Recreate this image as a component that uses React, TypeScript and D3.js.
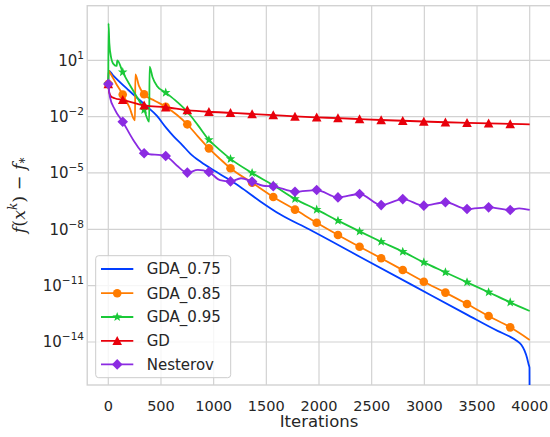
import React from "react";
import * as d3 from "d3";

// ---------- data (log10 of f(x^k) - f_*) ----------
const xTicks = [0, 500, 1000, 1500, 2000, 2500, 3000, 3500, 4000];
const yTickExps = [1, -2, -5, -8, -11, -14];
const markIters = [0, 137, 340, 545, 750, 955, 1160, 1365, 1566, 1772, 1978, 2180, 2385, 2590, 2795, 2995, 3200, 3405, 3610, 3815];

const gda075: [number, number][] = [
  [0, -0.26], [3, 0.45], [45, 0.2], [190, -0.58], [350, -1.38], [460, -1.95], [550, -2.6], [620, -3.05],
  [700, -3.5], [780, -3.98], [880, -4.42], [1000, -4.86], [1130, -5.3], [1250, -5.73], [1440, -6.5],
  [1630, -7.2], [1905, -8.0], [2400, -9.5], [2895, -11.0], [3400, -12.53], [3700, -13.42], [3800, -13.68],
  [3876, -13.93], [3920, -14.15], [3950, -14.45], [3975, -14.85], [3990, -15.2], [3998, -15.37], [4000, -Infinity],
];
const gda085: [number, number][] = [
  [0, -0.26], [3, 0.45], [20, 0.3], [80, -0.3], [137, -0.82], [200, -1.5], [253, -2.2], [257, 0.25],
  [290, -0.35], [340, -0.81], [440, -1.15], [545, -1.47], [650, -1.9], [750, -2.41], [850, -3.05],
  [955, -3.69], [1060, -4.25], [1160, -4.75], [1365, -5.52], [1566, -6.28], [1772, -6.95], [1978, -7.65],
  [2180, -8.3], [2385, -8.93], [2590, -9.54], [2795, -10.17], [2995, -10.79], [3200, -11.37], [3405, -11.98],
  [3610, -12.62], [3815, -13.22], [4000, -13.89],
];
const gda095: [number, number][] = [
  [0, -0.26], [2, 2.97], [10, 1.9], [25, 1.2], [50, 0.8], [80, 0.7], [85, 1.0], [137, 0.37], [250, -0.75],
  [340, -1.64], [388, -2.27], [392, 0.66], [420, 0.1], [460, -0.35], [545, -0.72], [650, -1.2], [750, -1.74],
  [850, -2.45], [955, -3.24], [1060, -3.78], [1160, -4.25], [1365, -5.0], [1566, -5.65], [1772, -6.38],
  [1978, -6.95], [2180, -7.54], [2385, -8.11], [2590, -8.66], [2795, -9.19], [2995, -9.76], [3200, -10.29],
  [3405, -10.82], [3610, -11.35], [3815, -11.89], [4000, -12.35],
];
const gd: [number, number][] = [
  [0, -0.26], [8, -0.7], [25, -0.92], [60, -1.02], [137, -1.11], [340, -1.4], [545, -1.5], [750, -1.65],
  [955, -1.74], [1160, -1.8], [1365, -1.86], [1566, -1.92], [1772, -1.99], [1978, -2.04], [2180, -2.08],
  [2385, -2.13], [2590, -2.18], [2795, -2.22], [2995, -2.26], [3200, -2.3], [3405, -2.33], [3610, -2.36],
  [3815, -2.39], [4000, -2.41],
];
const nesterov: [number, number][] = [
  [0, -0.26], [15, -0.94], [60, -1.6], [137, -2.27], [237, -3.24], [340, -3.95], [545, -4.1], [650, -4.6],
  [750, -4.98], [850, -4.84], [955, -4.95], [1060, -5.38], [1160, -5.45], [1260, -5.28], [1365, -5.46],
  [1470, -5.68], [1566, -5.71], [1772, -6.0], [1978, -5.91], [2180, -6.3], [2385, -6.12], [2590, -6.71],
  [2795, -6.39], [2995, -6.74], [3200, -6.56], [3405, -6.92], [3610, -6.83], [3815, -6.97], [3900, -6.88],
  [4000, -6.97],
];

type Marker = "none" | "circle" | "star" | "triangle" | "diamond";
const seriesNames = ["GDA_0.75", "GDA_0.85", "GDA_0.95", "GD", "Nesterov"];
const seriesData = [gda075, gda085, gda095, gd, nesterov];
const seriesColors = ["#023eff", "#ff7c00", "#1ac938", "#e8000b", "#8b2be2"];
const seriesMarkers: Marker[] = ["none", "circle", "star", "triangle", "diamond"];

// ---------- layout ----------
const W = 550, H = 437;
const L = 87.23, R = 550.77, T = 5.7, B = 385;
const FONT = "DejaVu Sans, sans-serif";
const TXT = "#262626";
const GRID = "#d2d2d2";

const x = d3.scaleLinear().domain([-200, 4200]).range([L, R]);
const y = d3.scaleLog().domain([Math.pow(10, -16.29), Math.pow(10, 3.907)]).range([B, T]);

const py = (e: number) => (e === -Infinity ? B + 60 : y(Math.pow(10, e)));

function markerPath(m: Marker): string {
  if (m === "circle") return d3.arc()({ innerRadius: 0, outerRadius: 4.3, startAngle: 0, endAngle: 2 * Math.PI }) as string;
  if (m === "triangle") return "M0,-4.8L4.8,4.2L-4.8,4.2Z";
  if (m === "diamond") return "M0,-5.3L5.3,0L0,5.3L-5.3,0Z";
  if (m === "star") {
    const pts: string[] = [];
    for (let i = 0; i < 10; i++) {
      const r = i % 2 === 0 ? 5 : 2.1;
      const a = (Math.PI / 5) * i - Math.PI / 2;
      pts.push(`${(r * Math.cos(a)).toFixed(2)},${(r * Math.sin(a)).toFixed(2)}`);
    }
    return "M" + pts.join("L") + "Z";
  }
  return "";
}

const line = d3
  .line<[number, number]>()
  .x((d) => x(d[0]))
  .y((d) => py(d[1]))
  .curve(d3.curveMonotoneX);

export default function App() {
  const legendRows = [269, 293.2, 317, 340.8, 364.4];
  return (
    <svg width={W} height={H} style={{ position: "absolute", left: 0, top: 0, background: "#fff" }} fontFamily={FONT}>
      <defs>
        <clipPath id="plot">
          <rect x={L} y={T} width={R - L} height={B - T} />
        </clipPath>
      </defs>
      <rect x={0} y={0} width={W} height={H} fill="#fff" />
      {/* grid */}
      {xTicks.map((t) => (
        <line key={"gx" + t} x1={x(t)} x2={x(t)} y1={T} y2={B} stroke={GRID} strokeWidth={1.2} />
      ))}
      {yTickExps.map((e) => (
        <line key={"gy" + e} x1={L} x2={R} y1={y(Math.pow(10, e))} y2={y(Math.pow(10, e))} stroke={GRID} strokeWidth={1.2} />
      ))}
      {/* spines */}
      <rect x={L} y={T} width={R - L} height={B - T} fill="none" stroke={GRID} strokeWidth={1.4} />
      {/* series */}
      <g clipPath="url(#plot)">
        {seriesData.map((d, i) => (
          <g key={seriesNames[i]}>
            <path d={line(d) as string} fill="none" stroke={seriesColors[i]} strokeWidth={1.8} strokeLinejoin="round" />
            {seriesMarkers[i] !== "none" &&
              d
                .filter((p) => markIters.includes(p[0]))
                .map((p) => (
                  <path key={p[0]} d={markerPath(seriesMarkers[i])} transform={`translate(${x(p[0])},${py(p[1])})`} fill={seriesColors[i]} />
                ))}
          </g>
        ))}
      </g>
      {/* x tick labels */}
      {xTicks.map((t) => (
        <text key={"tx" + t} x={x(t)} y={410.5} textAnchor="middle" fontSize={14.5} fill={TXT}>
          {t}
        </text>
      ))}
      {/* y tick labels */}
      {yTickExps.map((e) => (
        <text key={"ty" + e} x={84} y={y(Math.pow(10, e)) + 5.5} textAnchor="end" fontSize={15} fill={TXT}>
          10
          <tspan fontSize={10.5} dy={-7}>
            {e < 0 ? "\u2212" + Math.abs(e) : String(e)}
          </tspan>
        </text>
      ))}
      {/* axis labels */}
      <text x={(L + R) / 2} y={427} textAnchor="middle" fontSize={16.5} fill={TXT}>
        Iterations
      </text>
      <text transform={`translate(25,${(T + B) / 2}) rotate(-90)`} textAnchor="middle" fontSize={17.5} fill={TXT} fontFamily="DejaVu Serif, serif">
        <tspan fontStyle="italic">f</tspan>
        <tspan>(</tspan>
        <tspan fontStyle="italic">x</tspan>
        <tspan fontStyle="italic" fontSize={12} dy={-8}>k</tspan>
        <tspan dy={8}>)</tspan>
        <tspan> {"\u2212"} </tspan>
        <tspan fontStyle="italic">f</tspan>
        <tspan fontSize={12} dy={4}>*</tspan>
      </text>
      {/* legend */}
      <rect x={95.7} y={255.7} width={135} height={122} rx={3} fill="#fff" fillOpacity={0.8} stroke="#cccccc" strokeWidth={1} />
      {seriesNames.map((n, i) => (
        <g key={"lg" + n}>
          <line x1={101} x2={133.3} y1={legendRows[i]} y2={legendRows[i]} stroke={seriesColors[i]} strokeWidth={1.8} />
          {seriesMarkers[i] !== "none" && (
            <path d={markerPath(seriesMarkers[i])} transform={`translate(117.2,${legendRows[i]})`} fill={seriesColors[i]} />
          )}
          <text x={146.7} y={legendRows[i] + 5.3} fontSize={15} fill={TXT}>
            {n}
          </text>
        </g>
      ))}
    </svg>
  );
}
